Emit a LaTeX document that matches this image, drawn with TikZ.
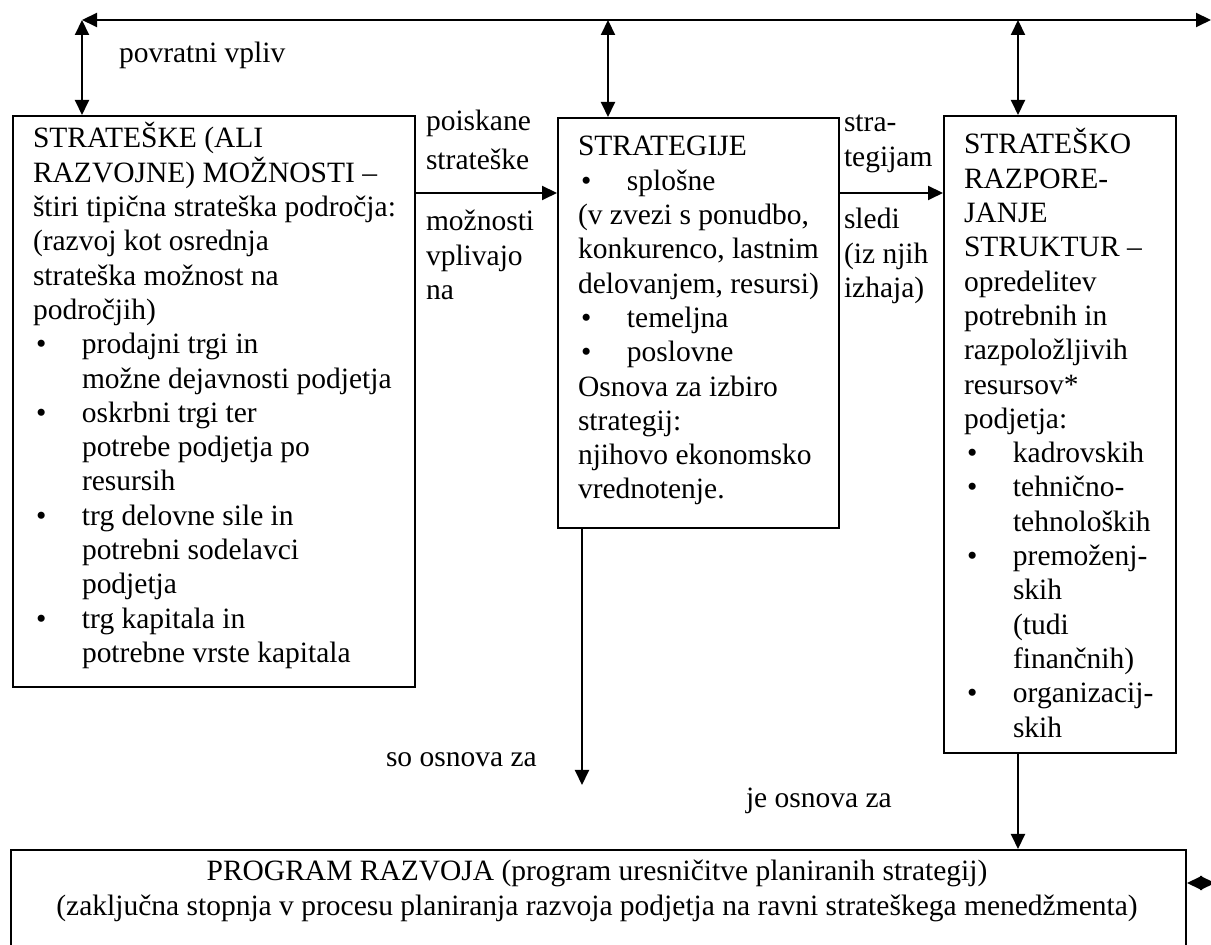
\documentclass[tikz,border=0pt]{standalone}
\usepackage{fontspec}
\setmainfont{Liberation Serif}
\usetikzlibrary{arrows.meta}
\newcommand{\bodyfont}{\fontsize{14.75pt}{17.15pt}\selectfont}
\newcommand{\firstline}{\rule{0pt}{14pt}}
\newcommand{\bul}{\makebox[24.5pt][l]{\hspace{1.5pt}\textbullet}}
\newcommand{\ind}{\hspace*{24.5pt}}
\begin{document}
\begin{tikzpicture}[x=0.5pt,y=-0.5pt, line width=1pt,
  box/.style={draw, rectangle, inner sep=0pt, anchor=north west},
  txt/.style={inner sep=0pt, anchor=north west, align=left, font=\bodyfont},
  ctxt/.style={inner sep=0pt, anchor=north, align=center, font=\bodyfont},
  tip/.style={-{Triangle[length=7.5pt,width=7pt]}},
  dtip/.style={{Triangle[length=7.5pt,width=7pt]}-{Triangle[length=7.5pt,width=7pt]}}
]
\useasboundingbox (0,0) rectangle (1211,945);
\clip (0,0) rectangle (1211,945);

% boxes
\node[box, minimum width=201pt, minimum height=285.5pt] (opt) at (12,115) {};
\node[box, minimum width=140.5pt, minimum height=205pt] (str) at (557,117) {};
\node[box, minimum width=116pt, minimum height=318.5pt] (raz) at (943,115) {};
\node[box, minimum width=587.5pt, minimum height=60pt] (prog) at (10,849) {};

% box texts
\node[txt] (optT) at (32,119) {\firstline STRATEŠKE (ALI\\
RAZVOJNE) MOŽNOSTI –\\
štiri tipična strateška področja:\\
(razvoj kot osrednja\\
strateška možnost na\\
področjih)\\
\bul prodajni trgi in\\
\ind možne dejavnosti podjetja\\
\bul oskrbni trgi ter\\
\ind potrebe podjetja po\\
\ind resursih\\
\bul trg delovne sile in\\
\ind potrebni sodelavci\\
\ind podjetja\\
\bul trg kapitala in\\
\ind potrebne vrste kapitala};

\node[txt] (strT) at (577,127) {\firstline STRATEGIJE\\
\bul splošne\\
(v zvezi s ponudbo,\\
konkurenco, lastnim\\
delovanjem, resursi)\\
\bul temeljna\\
\bul poslovne\\
Osnova za izbiro\\
strategij:\\
njihovo ekonomsko\\
vrednotenje.};

\node[txt] (razT) at (963,125) {\firstline STRATEŠKO\\
RAZPORE-\\
JANJE\\
STRUKTUR –\\
opredelitev\\
potrebnih in\\
razpoložljivih\\
resursov*\\
podjetja:\\
\bul kadrovskih\\
\bul tehnično-\\
\ind tehnoloških\\
\bul premoženj-\\
\ind skih\\
\ind (tudi\\
\ind finančnih)\\
\bul organizacij-\\
\ind skih};

\node[ctxt] (progT) at (597,852) {\firstline PROGRAM RAZVOJA (program uresničitve planiranih strategij)\\
(zaključna stopnja v procesu planiranja razvoja podjetja na ravni strateškega menedžmenta)};

% feedback frame along the top
\coordinate (tl) at (82,20);
\coordinate (tm) at (608,20);
\coordinate (tr) at (1018,20);
\coordinate (te) at (1211,20);
\draw[dtip] (tl) -- (te);
\draw[dtip] (tl) -- (tl |- opt.north);
\draw[dtip] (tm) -- (tm |- str.north);
\draw[dtip] (tr) -- (tr |- raz.north);
\coordinate (pe) at (1215,883);
\draw[dtip] (prog.east |- pe) -- (pe);

% forward flow
\draw[tip] (opt.east |- 0,193) -- (str.west |- 0,193);
\draw[tip] (str.east |- 0,193) -- (raz.west |- 0,193);
\coordinate (sdown) at (582,785);
\draw[tip] (sdown |- str.south) -- (sdown);
\coordinate (rdown) at (1018,0);
\draw[tip] (rdown |- raz.south) -- (rdown |- prog.north);

% connector labels
\node[txt] (l1a) at (425,102) {\firstline poiskane\\[2pt] strateške};
\node[txt] (l1b) at (425,202) {\firstline možnosti\\ vplivajo\\ na};
\node[txt] (l2a) at (843,103) {\firstline stra-\\ tegijam};
\node[txt] (l2b) at (843,200) {\firstline sledi\\ (iz njih\\ izhaja)};
\node[txt] (l3) at (385,738) {\firstline so osnova za};
\node[txt] (l4) at (745,779) {\firstline je osnova za};
\node[txt] (l5) at (118,34) {\firstline povratni vpliv};
\end{tikzpicture}
\end{document}
